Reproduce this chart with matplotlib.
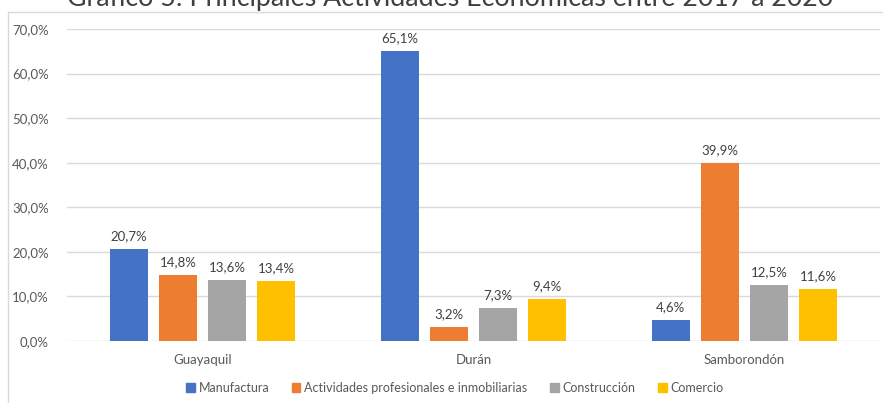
import numpy as np
import matplotlib.pyplot as plt
from matplotlib.patches import Patch, Rectangle

plt.rcParams['font.family'] = ['Lato', 'DejaVu Sans']

# datos
ciudades = ['Guayaquil', 'Durán', 'Samborondón']
series = ['Manufactura', 'Actividades profesionales e inmobiliarias',
          'Construcción', 'Comercio']
manufactura = [20.7, 65.1, 4.6]
actividades = [14.8, 3.2, 39.9]
construccion = [13.6, 7.3, 12.5]
comercio = [13.4, 9.4, 11.6]
valores = [manufactura, actividades, construccion, comercio]
colores = ['#4472C4', '#ED7D31', '#A5A5A5', '#FFC000']
yticks = [0, 10, 20, 30, 40, 50, 60, 70]

fig = plt.figure(figsize=(8.83, 4.03), dpi=100)
ax = fig.add_axes([67/883, 1-341/403, 813/883, 312/403])

x = np.arange(len(ciudades))
ancho = 0.143
paso = 0.181
for i, (vals, col) in enumerate(zip(valores, colores)):
    bars = ax.bar(x + (i - 1.5)*paso, vals, ancho, color=col, zorder=3)
    ax.bar_label(bars, labels=[f'{v:.1f}%'.replace('.', ',') for v in vals],
                 padding=5, fontsize=9.5, color='#404040')

ax.set_xlim(-0.5, 2.5)
ax.set_ylim(0, 70)
ax.set_yticks(yticks)
ax.set_yticklabels([f'{v:.1f}%'.replace('.', ',') for v in yticks])
ax.set_xticks(x)
ax.set_xticklabels(ciudades)
ax.tick_params(length=0, labelsize=9.5, labelcolor='#595959')
ax.tick_params(axis='y', pad=13)
ax.tick_params(axis='x', pad=9)
ax.grid(axis='y', color='#D9D9D9', linewidth=1, zorder=0)
for s in ax.spines.values():
    s.set_visible(False)

# borde del area del grafico
fig.patches.append(Rectangle((8/883, -0.05), 1.0, 1.05 - 12/403,
                             transform=fig.transFigure, fill=False,
                             edgecolor='#D9D9D9', linewidth=1))

# titulo (cortado arriba, como en la imagen original)
fig.text(450/883, 1 - 6/403, 'Gráfico 5: Principales Actividades Económicas entre 2017 a 2020',
         ha='center', va='baseline', fontsize=19.3, color='#404040')

handles = [Patch(color=c, label=s) for c, s in zip(colores, series)]
fig.legend(handles=handles, loc='center', bbox_to_anchor=(0.515, 1 - 388/403),
           ncol=4, frameon=False, fontsize=9, labelcolor='#595959',
           handlelength=0.7, handleheight=0.7, handletextpad=0.3, columnspacing=1.8)

fig.savefig('out.png', dpi=100)
